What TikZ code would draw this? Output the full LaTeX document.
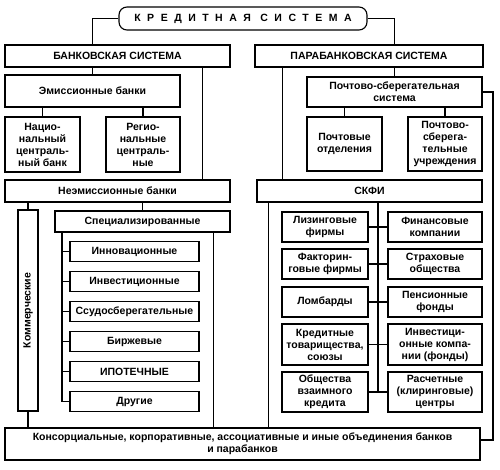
\documentclass[tikz,border=0pt]{standalone}
\usepackage{fontspec}
\setmainfont{Liberation Sans}
\newfontfamily\spacedfont[LetterSpace=62]{Liberation Sans}
\begin{document}
\begin{tikzpicture}[x=1pt,y=-1pt, line width=1.1pt,
  box/.style={draw, rectangle, align=center, inner sep=1pt,
    font=\bfseries\fontsize{10.5}{12}\selectfont},
  sub/.style={box, minimum width=129pt, minimum height=20pt},
  gl/.style={box, minimum width=86pt},
  gr/.style={box, minimum width=94pt}]
\useasboundingbox (0,0) rectangle (500,469);

% title
\node[box, rounded corners=8pt, minimum width=248pt, minimum height=23pt,
  font=\spacedfont\bfseries\fontsize{10.5}{12}\selectfont] (title) at (243,18.5)
  {КРЕДИТНАЯ СИСТЕМА};

% left branch
\node[box, minimum width=225pt, minimum height=22pt] (bank) at (117.5,56) {БАНКОВСКАЯ СИСТЕМА};
\node[box, minimum width=175pt, minimum height=32pt] (emis) at (92.5,91) {Эмиссионные банки};
\node[box, minimum width=75pt, minimum height=55pt] (nat) at (42.5,144.5) {Нацио-\\нальный\\централь-\\ный банк};
\node[box, minimum width=74pt, minimum height=55pt] (reg) at (143,144.5) {Регио-\\нальные\\централь-\\ные};
\node[box, minimum width=225pt, minimum height=22pt] (neem) at (117.5,191) {Неэмиссионные банки};
\node[box, rotate=90, minimum width=201pt, minimum height=20pt] (kom) at (28,310.5) {Коммерческие};
\node[box, minimum width=175pt, minimum height=21pt] (spec) at (142.5,221.5) {Специализированные};
\node[sub] (s1) at (134.5,251.5) {Инновационные};
\node[sub] (s2) at (134.5,281.5) {Инвестиционные};
\node[sub] (s3) at (134.5,311.5) {Ссудосберегательные};
\node[sub] (s4) at (134.5,341.5) {Биржевые};
\node[sub] (s5) at (134.5,371.5) {ИПОТЕЧНЫЕ};
\node[sub] (s6) at (134.5,401.5) {Другие};

% right branch
\node[box, minimum width=228pt, minimum height=22pt] (parab) at (369,56) {ПАРАБАНКОВСКАЯ СИСТЕМА};
\node[box, minimum width=175pt, minimum height=30pt] (pss) at (394.5,92) {Почтово-сберегательная\\система};
\node[box, minimum width=75pt, minimum height=54pt] (po) at (344.5,144) {Почтовые\\отделения};
\node[box, minimum width=74pt, minimum height=54pt] (psu) at (445,144) {Почтово-\\сберега-\\тельные\\учреждения};
\node[box, minimum width=225pt, minimum height=22pt] (skfi) at (369.5,191) {СКФИ};
\node[gl, minimum height=30pt] (l1) at (325,227) {Лизинговые\\фирмы};
\node[gr, minimum height=30pt] (r1) at (435,227) {Финансовые\\компании};
\node[gl, minimum height=30pt] (l2) at (325,264) {Факторин-\\говые фирмы};
\node[gr, minimum height=30pt] (r2) at (435,264) {Страховые\\общества};
\node[gl, minimum height=30pt] (l3) at (325,302) {Ломбарды};
\node[gr, minimum height=30pt] (r3) at (435,302) {Пенсионные\\фонды};
\node[gl, minimum height=41pt] (l4) at (325,344.5) {Кредитные\\товарищества,\\союзы};
\node[gr, minimum height=41pt] (r4) at (435,344.5) {Инвестици-\\онные компа-\\нии (фонды)};
\node[gl, minimum height=40pt] (l5) at (325,392) {Общества\\взаимного\\кредита};
\node[gr, minimum height=40pt] (r5) at (435,392) {Расчетные\\(клиринговые)\\центры};

% bottom
\node[box, minimum width=475pt, minimum height=32pt] (bot) at (242.5,444)
  {Консорциальные, корпоративные, ассоциативные и иные объединения банков\\и парабанков};

% helper coordinates
\coordinate (lsp) at (62,0);
\coordinate (rsp) at (378,0);
\coordinate (rc) at (493,92);

% connectors
\draw (title.west) -| (bank.north -| emis.north);
\draw (title.east) -| (parab.north -| pss.north);
\draw (emis.north) -- (emis.north |- bank.south);
\draw ([xshift=-28pt]bank.south east) -- ([xshift=-28pt]neem.north east);
\draw (nat.north) -- (nat.north |- emis.south);
\draw (reg.north) -- (reg.north |- emis.south);
\draw (kom.east) -- (kom.east |- neem.south);
\draw (kom.west) -- (kom.west |- bot.north);
\draw (spec.north) -- (spec.north |- neem.south);
\draw (spec.south -| lsp) |- (s6.west);
\foreach \s in {s1,s2,s3,s4,s5} \draw (\s.west) -- (\s.west -| lsp);
\draw ([xshift=-17pt]spec.south east) -- ([xshift=-17pt]spec.south east |- bot.north);

\draw ([xshift=28pt]parab.south west) -- ([xshift=28pt]parab.south west |- skfi.north);
\draw (pss.north) -- (pss.north |- parab.south);
\draw (po.north) -- (po.north |- pss.south);
\draw (psu.north) -- (psu.north |- pss.south);
\draw (pss.east) -- (rc) |- ([yshift=4pt]bot.east);
\draw ([xshift=12pt]skfi.south west) -- ([xshift=12pt]skfi.south west |- bot.north);
\draw (skfi.south -| rsp) -- (l5.east -| rsp);
\foreach \i in {1,...,5} \draw (l\i.east) -- (r\i.west);
\end{tikzpicture}
\end{document}
